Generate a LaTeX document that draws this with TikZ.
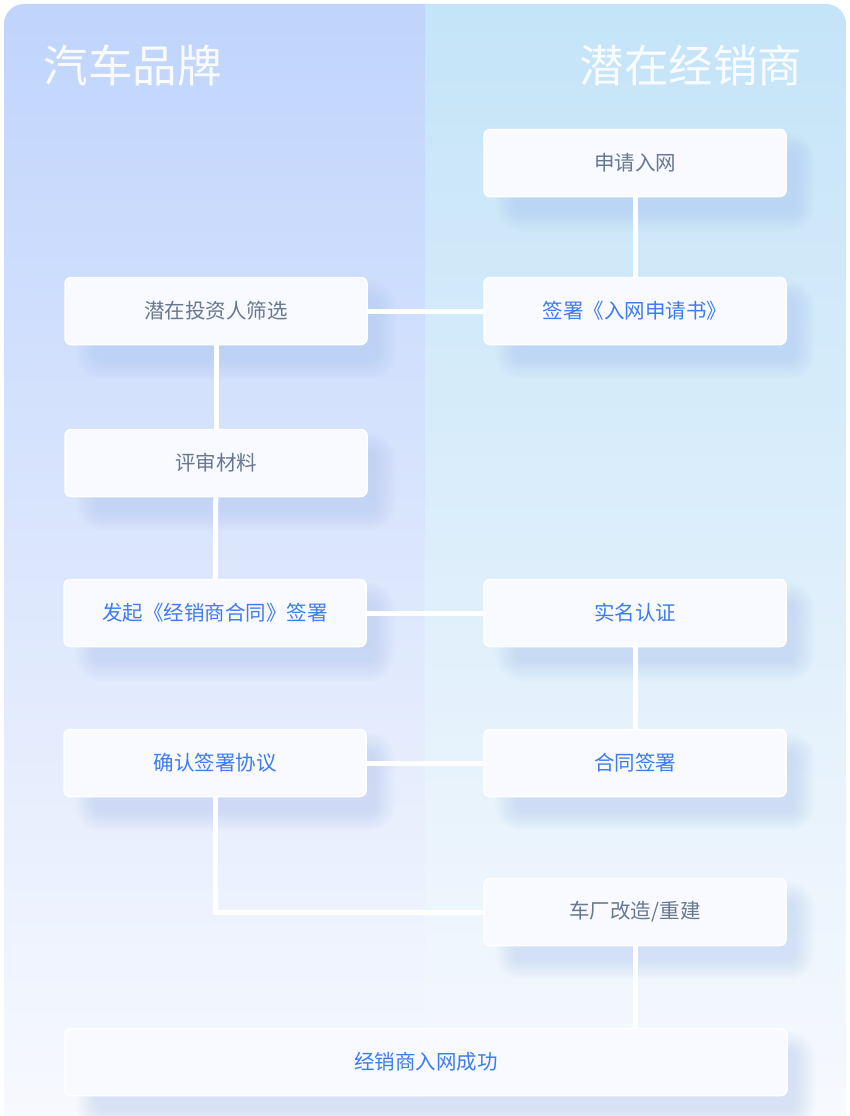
\documentclass[tikz,border=0pt]{standalone}
\usepackage{fontspec}
\setmainfont{Noto Sans CJK SC}
\usetikzlibrary{calc}
\pgfdeclarelayer{back}
\pgfdeclarelayer{bg}
\pgfsetlayers{back,bg,main}
\definecolor{brandTop}{HTML}{C0D4FC}
\definecolor{brandMid}{HTML}{E4EDFD}
\definecolor{dealerTop}{HTML}{C4E4F8}
\definecolor{dealerMid}{HTML}{E6F2FC}
\definecolor{paleBottom}{HTML}{F7F9FE}
\definecolor{boxFill}{HTML}{F8FAFF}
\definecolor{greyText}{HTML}{667892}
\definecolor{blueText}{HTML}{3D7CF2}
\definecolor{shadowBlue}{HTML}{A3BEF5}
\def\softshadow(#1){\foreach \e in {0,2,...,20} {\fill[shadowBlue, opacity=0.035, rounded corners=6pt+\e pt] ($(#1.north west)+(32-\e,24-\e)$) rectangle ($(#1.south east)+(8+\e,14+\e)$);}}
\tikzset{
	flowbox/.style={draw=white, line width=1.5pt, fill=boxFill, rounded corners=6pt,
		minimum width=302pt, minimum height=67pt, font=\fontsize{20.5}{20.5}\selectfont},
	grey/.style={text=greyText},
	blue/.style={text=blueText},
	link/.style={draw=white, line width=5pt},
	title/.style={text=white, opacity=0.9, font=\fontsize{44.5}{44.5}\selectfont}
}
\begin{document}
\begin{tikzpicture}[x=1pt, y=-1pt]
		%%%%% START %%%%%
		\useasboundingbox (0,0) rectangle (850,1116);
		
		\begin{pgfonlayer}{back}
			\clip[rounded corners=20pt] (4,4) rectangle (846,1150);
			\shade[top color=brandTop, middle color=brandMid, bottom color=paleBottom] (4,4) rectangle (425,1116);
			\shade[top color=dealerTop, middle color=dealerMid, bottom color=paleBottom] (425,4) rectangle (846,1116);
		\end{pgfonlayer}
		
		\node[title, anchor=base west] (brandTitle) at (40,82) {汽车品牌};
		\node[title, anchor=base east] (dealerTitle) at (806,82) {潜在经销商};
		
		\node[flowbox, grey] (apply) at (635,163) {申请入网};
		\node[flowbox, blue] (signApp) at (635,311) {签署《入网申请书》};
		\node[flowbox, grey] (screen) at (216,311) {潜在投资人筛选};
		\node[flowbox, grey] (review) at (216,463) {评审材料};
		\node[flowbox, blue] (launch) at (215,613) {发起《经销商合同》签署};
		\node[flowbox, blue] (realName) at (635,613) {实名认证};
		\node[flowbox, blue] (confirm) at (215,763) {确认签署协议};
		\node[flowbox, blue] (contractSign) at (635,763) {合同签署};
		\node[flowbox, grey] (rebuild) at (635,912) {车厂改造/重建};
		\node[flowbox, blue, minimum width=722pt] (success) at (426,1062) {经销商入网成功};
		
		\begin{pgfonlayer}{bg}
			\foreach \b in {apply,signApp,screen,review,launch,realName,confirm,contractSign,rebuild,success}
				{\softshadow(\b)}
			
			\draw[link] (apply) -- (signApp);
			\draw[link] (screen) -- (signApp);
			\draw[link] (screen) -- (review);
			\draw[link] (review) -- (launch);
			\draw[link] (launch) -- (realName);
			\draw[link] (realName) -- (contractSign);
			\draw[link] (confirm) -- (contractSign);
			\draw[link] (confirm.south) |- (rebuild.west);
			\draw[link] (rebuild.south) -- (rebuild.south |- success.north);
		\end{pgfonlayer}
		
		%%%%% END %%%%%
\end{tikzpicture}
\end{document}
